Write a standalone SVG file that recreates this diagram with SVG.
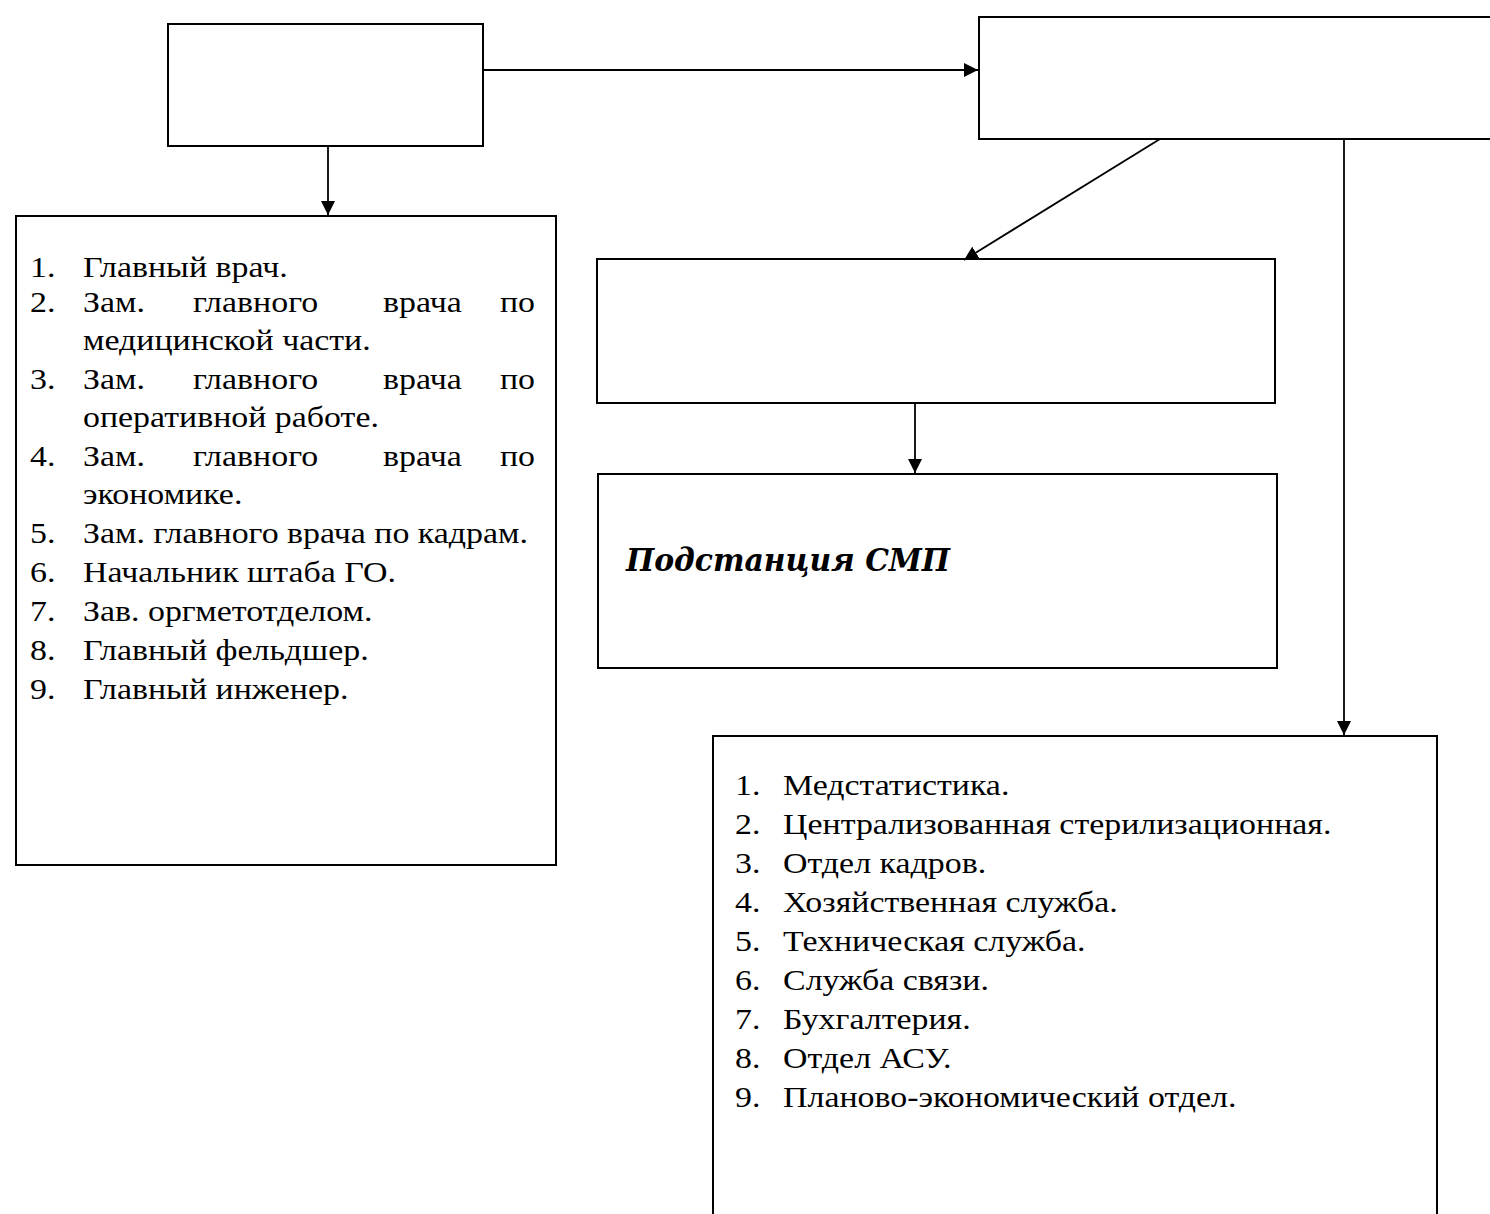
<svg xmlns="http://www.w3.org/2000/svg" width="1490" height="1214" viewBox="0 0 1490 1214">
<style>
.box{fill:none;stroke:#000;stroke-width:2}
.con{fill:none;stroke:#000;stroke-width:1.8}
.t{font-family:"Liberation Serif","Times New Roman",serif;font-size:30px;fill:#000}
.b{font-family:"DejaVu Serif","Liberation Serif",serif;font-size:32px;font-weight:bold;font-style:italic;fill:#000}
</style>
<defs>
<marker id="ah" viewBox="0 0 12 12" refX="12" refY="6" markerWidth="14" markerHeight="14" markerUnits="userSpaceOnUse" orient="auto">
<path d="M0,0 L12,6 L0,12 Z" fill="#000"/>
</marker>
</defs>
<rect width="1490" height="1214" fill="#fff"/>
<g id="connectors">
<line class="con" x1="483" y1="70" x2="978" y2="70" marker-end="url(#ah)"/>
<line class="con" x1="328" y1="146" x2="328" y2="215" marker-end="url(#ah)"/>
<line class="con" x1="1160" y1="139" x2="964" y2="260" marker-end="url(#ah)"/>
<line class="con" x1="1344" y1="139" x2="1344" y2="735" marker-end="url(#ah)"/>
<line class="con" x1="915" y1="403" x2="915" y2="473" marker-end="url(#ah)"/>
</g>
<g id="nodeA"><rect class="box" x="168" y="24" width="315" height="122"/></g>
<g id="nodeB"><rect class="box" x="979" y="17" width="520" height="122"/></g>
<g id="nodeD">
<rect class="box" x="16" y="216" width="540" height="649"/>
<g transform="translate(30,0) scale(1.13,1)">
<text class="t" x="0" y="277">1.</text><text class="t" x="46.9" y="277">Главный врач.</text>
<text class="t" x="0" y="312">2.</text><text class="t" x="46.9" y="312">Зам.</text><text class="t" x="144.2" y="312">главного</text><text class="t" x="312.4" y="312">врача</text><text class="t" x="446.9" y="312" text-anchor="end">по</text>
<text class="t" x="46.9" y="350">медицинской части.</text>
<text class="t" x="0" y="389">3.</text><text class="t" x="46.9" y="389">Зам.</text><text class="t" x="144.2" y="389">главного</text><text class="t" x="312.4" y="389">врача</text><text class="t" x="446.9" y="389" text-anchor="end">по</text>
<text class="t" x="46.9" y="427">оперативной работе.</text>
<text class="t" x="0" y="466">4.</text><text class="t" x="46.9" y="466">Зам.</text><text class="t" x="144.2" y="466">главного</text><text class="t" x="312.4" y="466">врача</text><text class="t" x="446.9" y="466" text-anchor="end">по</text>
<text class="t" x="46.9" y="504">экономике.</text>
<text class="t" x="0" y="543">5.</text><text class="t" x="46.9" y="543">Зам. главного врача по кадрам.</text>
<text class="t" x="0" y="582">6.</text><text class="t" x="46.9" y="582">Начальник штаба ГО.</text>
<text class="t" x="0" y="621">7.</text><text class="t" x="46.9" y="621">Зав. оргметотделом.</text>
<text class="t" x="0" y="660">8.</text><text class="t" x="46.9" y="660">Главный фельдшер.</text>
<text class="t" x="0" y="699">9.</text><text class="t" x="46.9" y="699">Главный инженер.</text>
</g>
</g>
<g id="nodeC"><rect class="box" x="597" y="259" width="678" height="144"/></g>
<g id="nodeF">
<rect class="box" x="598" y="474" width="679" height="194"/>
<text class="b" x="626" y="571" textLength="324" lengthAdjust="spacingAndGlyphs">Подстанция СМП</text>
</g>
<g id="nodeE">
<rect class="box" x="713" y="736" width="724" height="500"/>
<g transform="translate(735,0) scale(1.13,1)">
<text class="t" x="0" y="795">1.</text><text class="t" x="42.5" y="795">Медстатистика.</text>
<text class="t" x="0" y="834">2.</text><text class="t" x="42.5" y="834">Централизованная стерилизационная.</text>
<text class="t" x="0" y="873">3.</text><text class="t" x="42.5" y="873">Отдел кадров.</text>
<text class="t" x="0" y="912">4.</text><text class="t" x="42.5" y="912">Хозяйственная служба.</text>
<text class="t" x="0" y="951">5.</text><text class="t" x="42.5" y="951">Техническая служба.</text>
<text class="t" x="0" y="990">6.</text><text class="t" x="42.5" y="990">Служба связи.</text>
<text class="t" x="0" y="1029">7.</text><text class="t" x="42.5" y="1029">Бухгалтерия.</text>
<text class="t" x="0" y="1068">8.</text><text class="t" x="42.5" y="1068">Отдел АСУ.</text>
<text class="t" x="0" y="1107">9.</text><text class="t" x="42.5" y="1107">Планово-экономический отдел.</text>
</g>
</g>
</svg>
